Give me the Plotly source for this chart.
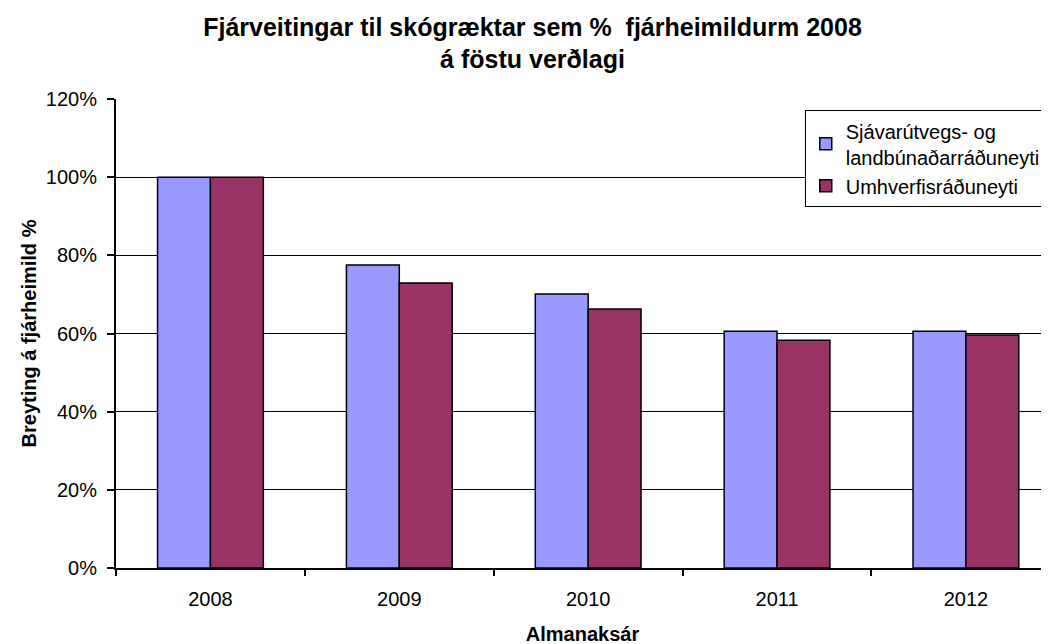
import plotly.graph_objects as go

years = ["2008", "2009", "2010", "2011", "2012"]
sjavar = [100.0, 77.5, 70.1, 60.6, 60.6]
umhverfi = [100.0, 72.9, 66.3, 58.3, 59.6]
series_names = ["Sjávarútvegs- og<br>landbúnaðarráðuneyti", "Umhverfisráðuneyti"]
y_ticks = [0, 20, 40, 60, 80, 100, 120]
y_tick_labels = ["0%", "20%", "40%", "60%", "80%", "100%", "120%"]

font = "Liberation Sans, Arial, sans-serif"

fig = go.Figure()
fig.add_trace(go.Bar(x=years, y=sjavar, name=series_names[0],
                     marker=dict(color="#9999FF", line=dict(color="black", width=1.5))))
fig.add_trace(go.Bar(x=years, y=umhverfi, name=series_names[1],
                     marker=dict(color="#993366", line=dict(color="black", width=1.5))))

fig.update_layout(
    width=1049, height=644,
    margin=dict(l=108, r=8, t=91, b=84),
    paper_bgcolor="white", plot_bgcolor="white",
    font=dict(family=font, color="black", size=20),
    barmode="group", bargap=0.44, bargroupgap=0,
    title=dict(text="<b>Fjárveitingar til skógræktar sem %  fjárheimildurm 2008<br>á föstu verðlagi</b>",
               x=0.5, xanchor="center", y=0.957, yanchor="middle",
               font=dict(size=25, family=font)),
    legend=dict(x=0.738, y=0.9765, xanchor="left", yanchor="top",
                bordercolor="black", borderwidth=1.2, bgcolor="white",
                font=dict(size=20, family=font), tracegroupgap=6,
                itemwidth=30),
    showlegend=True,
)
fig.update_xaxes(range=[-0.5, 4.44], showline=True, linecolor="black", linewidth=2,
                 ticks="outside", tickson="boundaries", ticklen=6, tickcolor="black", tickwidth=1.5,
                 showgrid=False, ticklabelstandoff=12,
                 title=dict(text="<b>Almanaksár</b>", font=dict(size=20, family=font), standoff=18),
                 tickfont=dict(size=20))
fig.update_yaxes(range=[0, 120], tickvals=y_ticks, ticktext=y_tick_labels,
                 showline=True, linecolor="black", linewidth=2,
                 ticks="outside", ticklen=7, tickcolor="black", tickwidth=1.5,
                 showgrid=True, gridcolor="black", gridwidth=1.2, zeroline=False,
                 ticklabelstandoff=6,
                 title=dict(text="<b>Breyting á fjárheimild %</b>", font=dict(size=20, family=font), standoff=4),
                 tickfont=dict(size=20))

fig.write_html("out.html")
